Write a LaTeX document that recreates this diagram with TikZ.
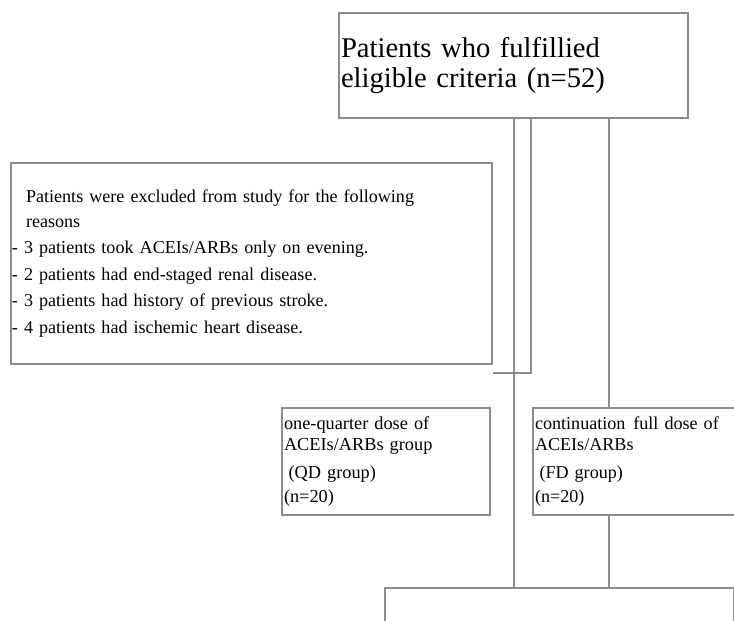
\documentclass[tikz,border=0pt]{standalone}
\usepackage{fontspec}
\setmainfont{Liberation Serif}
\definecolor{boxgray}{RGB}{140,140,140}
\begin{document}
\begin{tikzpicture}[x=1pt,y=-1pt,
  box/.style={draw=boxgray, line width=2pt, rectangle, inner ysep=0pt, align=left, anchor=north west},
  conn/.style={draw=boxgray, line width=2pt}]
\useasboundingbox[fill=white] (0,0) rectangle (734,621);
\clip (0,0) rectangle (734,621);
\node[box, minimum width=349pt, minimum height=105pt, inner xsep=2pt, text width=345pt,
  font=\fontsize{28.6}{30}\selectfont] (top) at (338,12)
  {Patients who fulfillied\\eligible criteria (n=52)};
\node[box, minimum width=481pt, minimum height=201pt, inner xsep=1pt, text width=479pt,
  font=\fontsize{18.1}{26.5}\selectfont] (excl) at (10,162)
  {\hspace*{14pt}Patients were excluded from study for the following\\[-2pt]
   \hspace*{14pt}reasons\\
   - 3 patients took ACEIs/ARBs only on evening.\\
   - 2 patients had end-staged renal disease.\\
   - 3 patients had history of previous stroke.\\
   - 4 patients had ischemic heart disease.};
\node[box, minimum width=208pt, minimum height=107pt, inner xsep=2pt, text width=204pt,
  font=\fontsize{18.3}{21}\selectfont] (qd) at (281,407)
  {one-quarter dose of\\ACEIs/ARBs group\\[7pt]\hspace*{4.5pt}(QD group)\\[3pt](n=20)};
\node[box, minimum width=208pt, minimum height=107pt, inner xsep=2pt, text width=204pt,
  font=\fontsize{18.1}{21}\selectfont] (fd) at (532,407)
  {continuation\ \hspace{0.1em}full dose of\\ACEIs/ARBs\\[7pt]\hspace*{4.5pt}(FD group)\\[3pt](n=20)};
\node[box, minimum width=349pt, minimum height=100pt, inner xsep=2pt, text width=345pt] (bot) at (384,587) {};
\coordinate (c2) at ([xshift=17pt]top.south);
\coordinate (c3) at ([xshift=95.5pt]top.south);
\draw[conn] (top.south) -- (top.south |- bot.north);
\draw[conn] (c2) |- ([yshift=-8pt]excl.south east);
\draw[conn] (c3) -- (c3 |- fd.north);
\draw[conn] (c3 |- fd.south) -- (c3 |- bot.north);
\end{tikzpicture}
\end{document}
